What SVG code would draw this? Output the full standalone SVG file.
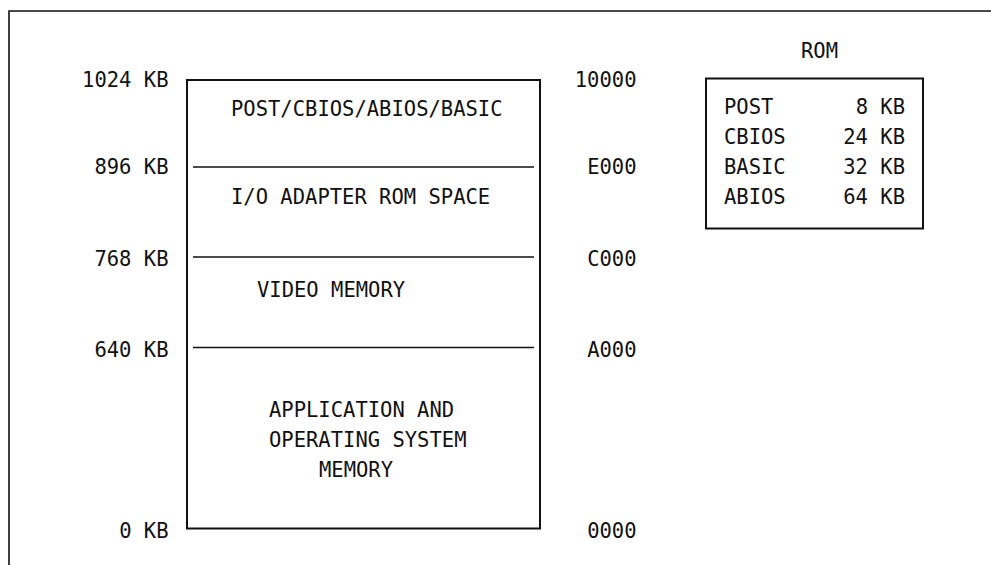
<svg xmlns="http://www.w3.org/2000/svg" width="991" height="565" viewBox="0 0 991 565">
<style>
  text { font-family: "DejaVu Sans Mono", "Liberation Mono", monospace; font-size: 20.5px; fill: #111; }
  .r { text-anchor: end; }
  .box { fill: none; stroke: #111; stroke-width: 2; }
  .div { stroke: #111; stroke-width: 1.6; }
  .frame { fill: none; stroke: #111; stroke-width: 1.6; }
</style>
<rect width="991" height="565" fill="#fff"/>
<g id="frame">
  <polyline class="frame" points="9,565 9,11 991,11"/>
</g>
<g id="memory-map">
  <rect class="box" x="187" y="80" width="353" height="448.5"/>
  <line class="div" x1="193" y1="167" x2="534" y2="167"/>
  <line class="div" x1="193" y1="257" x2="534" y2="257"/>
  <line class="div" x1="193" y1="347.5" x2="534" y2="347.5"/>
  <text x="231" y="116">POST/CBIOS/ABIOS/BASIC</text>
  <text x="231" y="204">I/O ADAPTER ROM SPACE</text>
  <text x="257" y="297">VIDEO MEMORY</text>
  <text x="269" y="417">APPLICATION AND</text>
  <text x="269" y="447">OPERATING SYSTEM</text>
  <text x="319" y="477">MEMORY</text>
</g>
<g id="kb-labels">
  <text class="r" x="168.5" y="87">1024 KB</text>
  <text class="r" x="168.5" y="174">896 KB</text>
  <text class="r" x="168.5" y="266">768 KB</text>
  <text class="r" x="168.5" y="357">640 KB</text>
  <text class="r" x="168.5" y="537.5">0 KB</text>
</g>
<g id="hex-labels">
  <text class="r" x="636.5" y="87">10000</text>
  <text class="r" x="636.5" y="174">E000</text>
  <text class="r" x="636.5" y="266">C000</text>
  <text class="r" x="636.5" y="357">A000</text>
  <text class="r" x="636.5" y="537.5">0000</text>
</g>
<g id="rom">
  <text x="801" y="57.5">ROM</text>
  <rect class="box" x="706" y="78.5" width="217" height="150"/>
  <text x="724" y="114">POST</text>
  <text x="724" y="144">CBIOS</text>
  <text x="724" y="174">BASIC</text>
  <text x="724" y="204">ABIOS</text>
  <text class="r" x="905" y="114">8 KB</text>
  <text class="r" x="905" y="144">24 KB</text>
  <text class="r" x="905" y="174">32 KB</text>
  <text class="r" x="905" y="204">64 KB</text>
</g>
</svg>
